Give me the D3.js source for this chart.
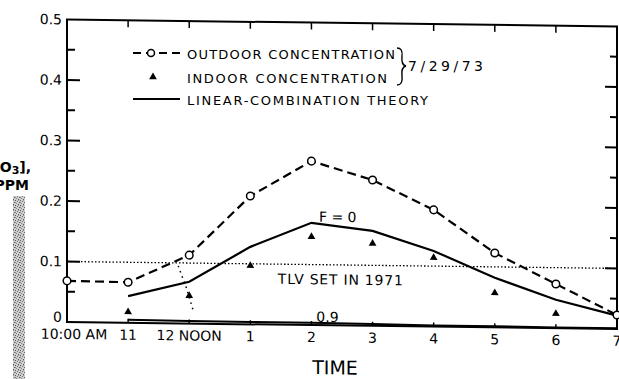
<!DOCTYPE html>
<html>
<head>
<meta charset="utf-8">
<script src="https://cdn.jsdelivr.net/npm/d3@7"></script>
<style>
  body { margin: 0; background: #fff; }
  svg { display: block; font-family: "DejaVu Sans", sans-serif; }
</style>
</head>
<body>
<div id="chart"></div>
<script>
// hours: 10 = 10:00 AM ... 19 = 7 PM
const hours = [10, 11, 12, 13, 14, 15, 16, 17, 18, 19];
const hourLabels = ['10:00 AM', '11', '12 NOON', '1', '2', '3', '4', '5', '6', '7'];
const outdoor = [0.068, 0.067, 0.113, 0.212, 0.271, 0.241, 0.193, 0.123, 0.073, 0.023];
const indoorHours = [11, 12, 13, 14, 15, 16, 17, 18];
const indoor = [0.018, 0.046, 0.097, 0.146, 0.136, 0.114, 0.057, 0.024];
const theoryHours = [11, 12, 13, 14, 15, 16, 17, 18, 19];
const theoryF0 = [0.044, 0.069, 0.128, 0.169, 0.157, 0.125, 0.082, 0.047, 0.022];
const theoryF09 = [0.005, 0.004, 0.004, 0.004, 0.003, 0.002, 0.002, 0.001, 0.001];
const tlv = 0.1;
const guideHours = [11.82, 11.95, 12.07];
const guideVals = [0.095, 0.06, 0.02];
const yMajor = [0, 0.1, 0.2, 0.3, 0.4, 0.5];
const yMinor = [0.05, 0.15, 0.25, 0.35, 0.45];
const yLabels = ['0', '0.1', '0.2', '0.3', '0.4', '0.5'];
const legendItems = ['OUTDOOR CONCENTRATION', 'INDOOR CONCENTRATION', 'LINEAR-COMBINATION THEORY'];

const width = 619, height = 379;
const x = d3.scaleLinear().domain([10, 19]).range([67, 617]);
const y = d3.scaleLinear().domain([0, 0.5]).range([322, 19.5]);

const svg = d3.select('#chart').append('svg')
  .attr('width', width).attr('height', height);

// scan shadow at the left edge
const pat = svg.append('defs').append('pattern')
  .attr('id', 'grain').attr('width', 5).attr('height', 5)
  .attr('patternUnits', 'userSpaceOnUse');
pat.append('rect').attr('width', 5).attr('height', 5).attr('fill', '#cfcfcf');
[[0, 0, '#555'], [2, 1, '#777'], [4, 2, '#666'], [1, 3, '#888'], [3, 4, '#5a5a5a'], [3, 0, '#999'], [0, 2, '#8a8a8a']]
  .forEach(p => pat.append('rect').attr('x', p[0]).attr('y', p[1])
    .attr('width', 1).attr('height', 1).attr('fill', p[2]));
svg.append('rect').attr('x', 13).attr('y', 196).attr('width', 12).attr('height', 183)
  .attr('fill', 'url(#grain)');

// cropped y-axis title
const yt = svg.append('text').attr('x', 31).attr('y', 172).attr('text-anchor', 'end')
  .attr('font-size', 14).attr('font-weight', 'bold');
yt.append('tspan').text('[O');
yt.append('tspan').attr('font-size', 11).attr('dy', 2).text('3');
yt.append('tspan').attr('dy', -2).text('],');
svg.append('text').attr('x', 29).attr('y', 190).attr('text-anchor', 'end')
  .attr('font-size', 14).attr('font-weight', 'bold').text('PPM');

// slight skew from the scan
const g = svg.append('g')
  .attr('transform', 'translate(67,0) skewY(0.72) translate(-67,0)');

// frame
g.append('rect')
  .attr('x', x(10)).attr('y', y(0.5))
  .attr('width', x(19) - x(10)).attr('height', y(0) - y(0.5))
  .attr('fill', 'none').attr('stroke', '#000').attr('stroke-width', 2);

// left ticks
g.selectAll('.ymaj').data(yMajor.slice(1, 5)).enter().append('line')
  .attr('x1', x(10)).attr('x2', x(10) + 13)
  .attr('y1', d => y(d)).attr('y2', d => y(d))
  .attr('stroke', '#000').attr('stroke-width', 2);
g.selectAll('.ymin').data(yMinor).enter().append('line')
  .attr('x1', x(10)).attr('x2', x(10) + 8)
  .attr('y1', d => y(d)).attr('y2', d => y(d))
  .attr('stroke', '#000').attr('stroke-width', 2);
// right ticks
g.selectAll('.rmaj').data(yMajor.slice(1, 5)).enter().append('line')
  .attr('x1', x(19)).attr('x2', x(19) - 12)
  .attr('y1', d => y(d)).attr('y2', d => y(d))
  .attr('stroke', '#000').attr('stroke-width', 2);
g.selectAll('.rmin').data(yMinor).enter().append('line')
  .attr('x1', x(19)).attr('x2', x(19) - 7)
  .attr('y1', d => y(d)).attr('y2', d => y(d))
  .attr('stroke', '#000').attr('stroke-width', 2);
// top and bottom ticks
g.selectAll('.tt').data(hours.slice(1, 9)).enter().append('line')
  .attr('x1', d => x(d)).attr('x2', d => x(d))
  .attr('y1', y(0.5)).attr('y2', y(0.5) + 7)
  .attr('stroke', '#000').attr('stroke-width', 1.5);
g.selectAll('.bt').data(hours.slice(1, 9)).enter().append('line')
  .attr('x1', d => x(d)).attr('x2', d => x(d))
  .attr('y1', y(0)).attr('y2', y(0) - 4)
  .attr('stroke', '#000').attr('stroke-width', 1.5);

// y labels (the 0 sits a little above its tick)
g.selectAll('.yl').data(yMajor).enter().append('text')
  .attr('x', x(10) - 5).attr('y', d => y(d) - (d === 0 ? 5 : 0)).attr('dy', '0.35em')
  .attr('text-anchor', 'end').attr('font-size', 14)
  .text((d, i) => yLabels[i]);

// x labels
g.selectAll('.xl').data(hours).enter().append('text')
  .attr('x', (d, i) => x(d) + (i === 0 ? 7 : 0)).attr('y', y(0) + 17)
  .attr('text-anchor', 'middle').attr('font-size', 14)
  .text((d, i) => hourLabels[i]);

g.append('text').attr('x', 335).attr('y', 371)
  .attr('text-anchor', 'middle').attr('font-size', 19).text('TIME');

// TLV line
g.append('line')
  .attr('x1', x(10)).attr('x2', x(19))
  .attr('y1', y(tlv)).attr('y2', y(tlv))
  .attr('stroke', '#000').attr('stroke-width', 1.3)
  .attr('stroke-dasharray', '1.5,2');
g.append('path')
  .attr('d', d3.line().x(d => x(d[0])).y(d => y(d[1]))(guideHours.map((h, i) => [h, guideVals[i]])))
  .attr('fill', 'none').attr('stroke', '#000').attr('stroke-width', 1.5)
  .attr('stroke-dasharray', '1.5,4');

const line = d3.line().x(d => x(d[0])).y(d => y(d[1]));

// F = 0.9 theory
g.append('path')
  .attr('d', line(theoryHours.map((h, i) => [h, theoryF09[i]])))
  .attr('fill', 'none').attr('stroke', '#000').attr('stroke-width', 2);

// F = 0 theory
g.append('path')
  .attr('d', line(theoryHours.map((h, i) => [h, theoryF0[i]])))
  .attr('fill', 'none').attr('stroke', '#000').attr('stroke-width', 2.2);

// outdoor
g.append('path')
  .attr('d', line(hours.map((h, i) => [h, outdoor[i]])))
  .attr('fill', 'none').attr('stroke', '#000').attr('stroke-width', 2.2)
  .attr('stroke-dasharray', '9,5');
g.selectAll('.od').data(hours).enter().append('circle')
  .attr('cx', d => x(d)).attr('cy', (d, i) => y(outdoor[i])).attr('r', 3.8)
  .attr('fill', '#fff').attr('stroke', '#000').attr('stroke-width', 1.5);

// indoor
const tri = d3.symbol().type(d3.symbolTriangle).size(26);
g.selectAll('.in').data(indoorHours).enter().append('path')
  .attr('d', tri)
  .attr('transform', (d, i) => `translate(${x(d)},${y(indoor[i])})`)
  .attr('fill', '#000');

// annotations
g.append('text').attr('x', x(14.43)).attr('y', y(0.171))
  .attr('text-anchor', 'middle').attr('font-size', 14).text('F = 0');
g.append('text').attr('x', x(13.45)).attr('y', y(0.0675))
  .attr('font-size', 14).attr('textLength', 125).text('TLV SET IN 1971');
g.append('text').attr('x', x(14.08)).attr('y', y(0.0055))
  .attr('font-size', 14).text('0.9');

// legend
const lg = svg.append('g');
const rowY = [53, 77, 99];
lg.append('line').attr('x1', 133).attr('x2', 180).attr('y1', rowY[0]).attr('y2', rowY[0])
  .attr('stroke', '#000').attr('stroke-width', 2).attr('stroke-dasharray', '8,5');
lg.append('circle').attr('cx', 151).attr('cy', rowY[0]).attr('r', 3.5)
  .attr('fill', '#fff').attr('stroke', '#000').attr('stroke-width', 1.5);
lg.append('path').attr('d', tri).attr('transform', `translate(153,${rowY[1]})`).attr('fill', '#000');
lg.append('line').attr('x1', 133).attr('x2', 180).attr('y1', rowY[2]).attr('y2', rowY[2])
  .attr('stroke', '#000').attr('stroke-width', 2.2);
const legendLen = [208, 200, 241];
lg.selectAll('.lt').data(legendItems).enter().append('text')
  .attr('x', 187).attr('y', (d, i) => rowY[i] + 6)
  .attr('font-size', 13).attr('textLength', (d, i) => legendLen[i])
  .text(d => d);
lg.append('path')
  .attr('d', 'M397,48 Q403,48 402,56 Q401,65 406,66 Q401,67 402,76 Q403,85 397,85')
  .attr('fill', 'none').attr('stroke', '#000').attr('stroke-width', 1.4);
lg.append('text').attr('x', 408).attr('y', 71).attr('font-size', 14)
  .attr('textLength', 75).text('7/29/73');
</script>
</body>
</html>
